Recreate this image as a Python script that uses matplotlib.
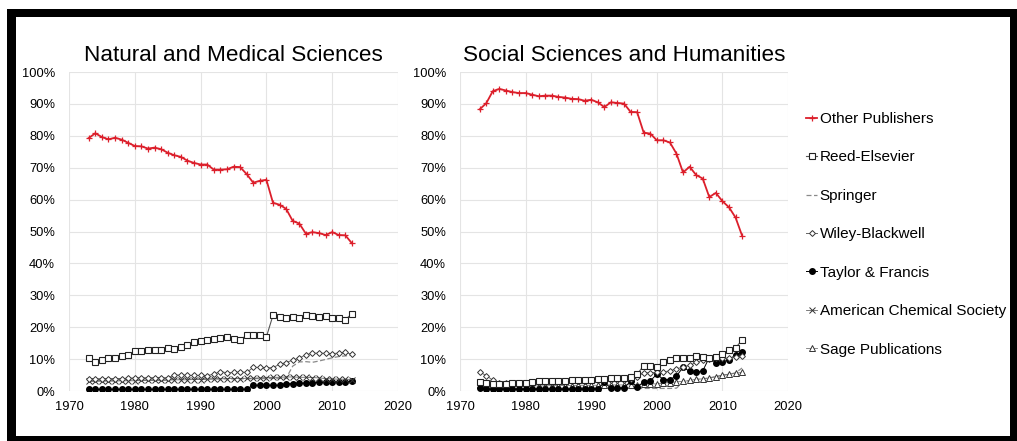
import matplotlib
matplotlib.use("Agg")
import matplotlib.pyplot as plt
from matplotlib.patches import Rectangle
from matplotlib.ticker import FuncFormatter, MultipleLocator

plt.rcParams['font.family'] = ['Liberation Sans', 'DejaVu Sans']

years = [1973, 1974, 1975, 1976, 1977, 1978, 1979, 1980, 1981, 1982,
         1983, 1984, 1985, 1986, 1987, 1988, 1989, 1990, 1991, 1992,
         1993, 1994, 1995, 1996, 1997, 1998, 1999, 2000, 2001, 2002,
         2003, 2004, 2005, 2006, 2007, 2008, 2009, 2010, 2011, 2012, 2013]

series_names = ["Other Publishers", "Reed-Elsevier", "Springer", "Wiley-Blackwell",
                "Taylor & Francis", "American Chemical Society", "Sage Publications"]

titles = ["Natural and Medical Sciences", "Social Sciences and Humanities"]

# ---- Natural and Medical Sciences (%) ----
nms_other = [79.3, 80.8, 79.6, 78.9, 79.4, 78.8, 77.8, 76.8, 76.7, 76.0,
             76.3, 75.8, 74.7, 73.9, 73.4, 72.2, 71.5, 71.0, 71.0, 69.4,
             69.4, 69.5, 70.3, 70.2, 68.0, 65.3, 65.9, 66.2, 59.0, 58.4,
             57.1, 53.3, 52.5, 49.3, 49.8, 49.5, 48.9, 49.8, 48.9, 48.8, 46.3]
nms_reed = [10.2, 9.2, 9.8, 10.3, 10.4, 10.9, 11.2, 12.5, 12.6, 12.9,
            13.0, 13.0, 13.5, 13.3, 13.8, 14.4, 15.4, 15.7, 15.9, 16.4,
            16.5, 16.8, 16.3, 16.0, 17.5, 17.5, 17.4, 17.0, 23.7, 23.2,
            23.0, 23.1, 22.8, 23.7, 23.4, 23.2, 23.5, 22.8, 22.8, 22.4, 24.2]
nms_springer = [3.3, 3.3, 3.3, 3.3, 3.3, 3.4, 3.4, 3.4, 3.4, 3.5,
                3.5, 3.5, 3.5, 3.7, 3.7, 3.7, 3.7, 3.8, 3.8, 3.8,
                3.8, 3.8, 3.8, 3.8, 3.8, 3.9, 3.9, 3.9, 4.0, 4.0,
                4.0, 7.8, 9.1, 9.2, 9.0, 9.4, 9.9, 10.4, 10.8, 11.0, 11.2]
nms_wiley = [3.8, 3.7, 3.8, 3.8, 3.9, 3.9, 4.0, 4.1, 4.0, 4.0,
             4.1, 4.0, 4.1, 5.0, 5.0, 4.9, 4.9, 4.9, 4.8, 5.3,
             6.1, 5.7, 5.8, 6.0, 5.8, 7.4, 7.4, 7.3, 7.3, 8.4,
             8.9, 9.7, 10.3, 11.4, 11.8, 11.9, 11.8, 11.7, 11.9, 12.1, 11.5]
nms_tf = [0.5, 0.5, 0.5, 0.5, 0.5, 0.5, 0.5, 0.5, 0.5, 0.5,
          0.5, 0.5, 0.5, 0.5, 0.5, 0.5, 0.5, 0.5, 0.5, 0.5,
          0.5, 0.5, 0.5, 0.5, 0.6, 1.8, 1.8, 1.8, 1.8, 1.8,
          2.3, 2.3, 2.4, 2.5, 2.6, 2.7, 2.7, 2.8, 2.8, 2.9, 3.0]
nms_acs = [3.0, 3.0, 3.1, 3.1, 3.1, 3.2, 3.2, 3.2, 3.3, 3.3,
           3.3, 3.3, 3.4, 3.5, 3.5, 3.5, 3.6, 3.6, 3.7, 3.8,
           3.8, 3.9, 3.9, 3.9, 4.0, 4.0, 4.1, 4.2, 4.3, 4.3,
           4.4, 4.4, 4.3, 4.3, 4.2, 4.1, 3.9, 3.8, 3.7, 3.7, 3.6]
nms_sage = []  # not visible in this panel

# ---- Social Sciences and Humanities (%) ----
ssh_other = [88.3, 90.2, 94.0, 94.7, 94.2, 93.7, 93.4, 93.4, 92.9, 92.4,
             92.6, 92.6, 92.2, 92.0, 91.6, 91.5, 91.0, 91.3, 90.5, 89.0,
             90.5, 90.3, 90.1, 87.5, 87.4, 81.0, 80.7, 78.6, 78.6, 77.9,
             74.4, 68.5, 70.3, 67.7, 66.6, 60.8, 62.1, 59.5, 57.6, 54.4, 48.7]
ssh_reed = [2.8, 2.4, 2.2, 2.2, 2.3, 2.4, 2.5, 2.6, 2.7, 3.0,
            3.0, 3.0, 3.1, 3.2, 3.3, 3.3, 3.5, 3.6, 3.9, 3.8,
            4.0, 4.1, 4.0, 4.4, 5.3, 7.9, 7.9, 7.6, 9.2, 9.8,
            10.2, 10.4, 10.4, 10.9, 10.7, 10.4, 10.6, 11.7, 12.8, 13.5, 16.0]
ssh_springer = [0.8, 0.8, 0.8, 0.8, 0.8, 0.8, 0.8, 0.8, 0.8, 0.8,
                0.8, 0.8, 0.8, 0.8, 0.8, 0.8, 0.8, 0.8, 0.8, 0.8,
                0.8, 0.8, 0.8, 0.8, 0.8, 0.8, 0.8, 0.8, 0.8, 0.8,
                0.9, 2.8, 3.3, 3.6, 3.8, 4.1, 4.5, 4.9, 5.2, 5.7, 7.2]
ssh_wiley = [6.0, 4.8, 3.4, 2.5, 2.6, 2.6, 2.6, 2.6, 2.7, 2.8,
             2.9, 2.9, 3.0, 3.0, 3.1, 3.1, 3.2, 3.3, 3.3, 3.3,
             3.4, 3.4, 3.5, 3.8, 4.5, 5.7, 5.7, 5.9, 6.0, 6.3,
             7.0, 7.5, 8.0, 9.0, 9.6, 10.0, 10.2, 10.3, 10.3, 10.8, 11.0]
ssh_tf = [0.8, 0.6, 0.5, 0.6, 0.6, 0.6, 0.6, 0.6, 0.6, 0.6,
          0.6, 0.6, 0.6, 0.6, 0.6, 0.6, 0.6, 0.7, 0.7, 2.7,
          0.9, 0.9, 1.0, 3.0, 1.3, 2.7, 3.1, 5.3, 3.6, 3.6,
          4.7, 7.4, 6.2, 5.8, 6.3, 10.5, 8.8, 9.1, 9.8, 11.3, 12.1]
ssh_acs = []  # not visible in this panel
ssh_sage = [2.0, 1.8, 1.5, 1.5, 1.5, 1.5, 1.6, 1.6, 1.6, 1.6,
            1.6, 1.7, 1.7, 1.7, 1.7, 1.8, 1.8, 1.8, 1.8, 1.9,
            1.9, 1.9, 1.9, 2.0, 2.0, 2.3, 2.3, 2.2, 2.5, 2.6,
            2.9, 3.0, 3.3, 3.7, 3.8, 4.1, 4.5, 5.0, 5.3, 5.6, 5.8]

nms = [nms_other, nms_reed, nms_springer, nms_wiley, nms_tf, nms_acs, nms_sage]
ssh = [ssh_other, ssh_reed, ssh_springer, ssh_wiley, ssh_tf, ssh_acs, ssh_sage]

RED = '#dc1f2b'
styles = [
    dict(color=RED, lw=1.3, marker='+', ms=4.5, mew=0.9, zorder=6),
    dict(color='#555555', lw=0.8, marker='s', ms=4.2, mfc='white', mec='#222222', mew=0.8, zorder=5),
    dict(color='#8a8a8a', lw=0.9, ls=(0, (4, 2)), marker=None, zorder=2),
    dict(color='#666666', lw=0.7, marker='D', ms=3.0, mfc='white', mec='#333333', mew=0.7, zorder=4),
    dict(color='#000000', lw=0.7, marker='o', ms=4.0, mfc='black', mec='black', zorder=3),
    dict(color='#666666', lw=0.6, marker='x', ms=3.8, mec='#333333', mew=0.7, zorder=3.5),
    dict(color='#777777', lw=0.6, marker='^', ms=4.0, mfc='white', mec='#333333', mew=0.7, zorder=2.5),
]

W, H = 1017, 441
fig = plt.figure(figsize=(W / 100, H / 100), dpi=100)
fig.patch.set_facecolor('white')


def axrect(x0, x1, y_top, y_bot):
    return [x0 / W, 1 - y_bot / H, (x1 - x0) / W, (y_bot - y_top) / H]


ax1 = fig.add_axes(axrect(69, 398, 72, 391))
ax2 = fig.add_axes(axrect(460, 788, 72, 391))

handles = {}
for ax, data, title in [(ax1, nms, titles[0]), (ax2, ssh, titles[1])]:
    for name, vals, st in zip(series_names, data, styles):
        if len(vals) == 0:
            continue
        ln, = ax.plot(years, vals, label=name, **st)
        handles.setdefault(name, ln)
    ax.set_xlim(1970, 2020)
    ax.set_ylim(0, 100)
    ax.xaxis.set_major_locator(MultipleLocator(10))
    ax.yaxis.set_major_locator(MultipleLocator(10))
    ax.yaxis.set_major_formatter(FuncFormatter(lambda v, p: f"{int(round(v))}%"))
    ax.grid(True, color='#e4e4e4', lw=0.8, zorder=0)
    ax.set_axisbelow(True)
    for s in ax.spines.values():
        s.set_visible(False)
    ax.tick_params(axis='both', length=0, labelsize=9.3, colors='black')
    ax.tick_params(axis='x', pad=7)
    ax.tick_params(axis='y', pad=10)
    ax.set_title(title, fontsize=16.2, pad=8)

leg = fig.legend(handles=[handles[n] for n in series_names], loc='upper left',
                 bbox_to_anchor=(806 / W, 1 - 112 / H),
                 frameon=False, fontsize=11, handlelength=0.75,
                 handletextpad=0.15, labelspacing=1.6, borderpad=0,
                 borderaxespad=0)


def frame_rect(x0, y0, x1, y1):
    fig.add_artist(Rectangle((x0 / W, 1 - y1 / H), (x1 - x0) / W, (y1 - y0) / H,
                             transform=fig.transFigure, facecolor='black',
                             edgecolor='none', zorder=10))


frame_rect(7, 9, 16, 441)
frame_rect(7, 9, 1017, 17)
frame_rect(1010, 9, 1017, 441)
frame_rect(7, 436, 1017, 441)

fig.savefig('out.png', dpi=100)
